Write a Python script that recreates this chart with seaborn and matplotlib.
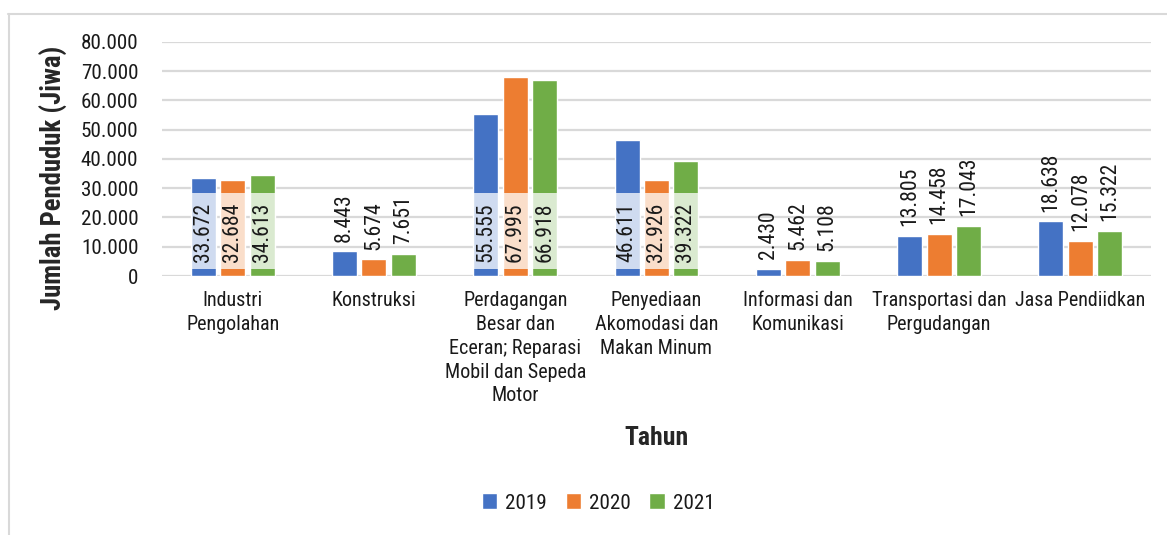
import matplotlib
matplotlib.use("Agg")
import matplotlib.pyplot as plt
from matplotlib import font_manager
from matplotlib.patches import Rectangle
from matplotlib.ticker import FuncFormatter, MultipleLocator
import numpy as np
import pandas as pd
import seaborn as sns

# Sector labels (pre-wrapped) and employment per year
categories = [
    "Industri\nPengolahan",
    "Konstruksi",
    "Perdagangan\nBesar dan\nEceran; Reparasi\nMobil dan Sepeda\nMotor",
    "Penyediaan\nAkomodasi dan\nMakan Minum",
    "Informasi dan\nKomunikasi",
    "Transportasi dan\nPergudangan",
    "Jasa Pendiidkan",
]
years = ["2019", "2020", "2021"]
values_2019 = [33672, 8443, 55555, 46611, 2430, 13805, 18638]
values_2020 = [32684, 5674, 67995, 32926, 5462, 14458, 12078]
values_2021 = [34613, 7651, 66918, 39322, 5108, 17043, 15322]
colors = ["#4472C4", "#ED7D31", "#70AD47"]

series = {"2019": values_2019, "2020": values_2020, "2021": values_2021}
df = pd.DataFrame(
    [(c, y, v) for y in years for c, v in zip(categories, series[y])],
    columns=["Sektor", "Tahun", "Jiwa"],
)

sns.set_theme(style="white")

# Prefer a narrow sans face when one is installed
fonts = font_manager.fontManager.ttflist
narrow_names = [f.name for f in fonts if "Narrow" in f.name or "Condensed" in f.name]
condensed = [f for f in fonts if str(f.stretch) in ("condensed", "semi-condensed")
             and f.name in ("Liberation Sans", "Noto Sans", "Roboto", "Open Sans",
                            "DejaVu Sans", "Lato", "Inter")]
stretch = "normal"
if narrow_names:
    family = sorted(narrow_names, key=lambda n: ("Liberation" not in n, "Roboto" not in n, n))[0]
    scale = 1.0
elif condensed:
    pick = sorted(condensed, key=lambda f: (f.name != "Noto Sans", f.name != "Roboto", f.name))[0]
    family, stretch, scale = pick.name, pick.stretch, 1.0
else:
    family, scale = "Liberation Sans", 0.85
plt.rcParams["font.family"] = [family, "DejaVu Sans"]
plt.rcParams["font.stretch"] = stretch
plt.rcParams["text.color"] = "#1a1a1a"


def dotted(v):
    return f"{int(round(v)):,}".replace(",", ".")


fig = plt.figure(figsize=(11.67, 5.35), dpi=100)
ax = fig.add_axes([162 / 1167, 1 - 276 / 535, (1151 - 162) / 1167, (276 - 42) / 535])

sns.barplot(
    data=df, x="Sektor", y="Jiwa", hue="Tahun", order=categories, hue_order=years,
    palette=colors, width=0.625, gap=0.15, saturation=1, ax=ax, legend=True,
    errorbar=None,
)

ax.set_ylim(0, 80000)
ax.yaxis.set_major_locator(MultipleLocator(10000))
ax.yaxis.set_major_formatter(FuncFormatter(lambda v, p: dotted(v)))
ax.grid(axis="y", color="#D9D9D9", linewidth=1.6)
ax.set_axisbelow(True)
for s in ax.spines.values():
    s.set_visible(False)
ax.tick_params(axis="y", length=0, pad=17, labelsize=15.2 * scale, labelcolor="#1a1a1a")
ax.tick_params(axis="x", length=0, pad=11, labelsize=14.5 * scale, labelcolor="#1a1a1a")
for t in ax.get_xticklabels():
    t.set_linespacing(1.32 if scale == 1.0 else 1.55)

ax.set_xlabel("Tahun", fontsize=18.5 * scale, fontweight="bold", labelpad=0)
ax.xaxis.set_label_coords(0.5, -(426 - 276) / (276 - 42), transform=ax.transAxes)
ax.set_ylabel("Jumlah Penduduk (Jiwa)", fontsize=19.3 * scale, fontweight="bold")
ax.yaxis.set_label_coords((68 - 162) / (1151 - 162), (276 - 178) / (276 - 42))

# Value labels: tall bars get a boxed label at the base, others sit above the bar
label_size = 15.7 * scale
inside = []
for container, year in zip(ax.containers, years):
    for bar, val in zip(container.patches, series[year]):
        cx = bar.get_x() + bar.get_width() / 2
        if val > 30000:
            t = ax.annotate(dotted(val), (cx, 0), xytext=(0, 10), textcoords="offset points",
                            rotation=90, ha="center", va="bottom", fontsize=label_size, zorder=5)
            inside.append((t, bar))
        else:
            ax.annotate(dotted(val), (cx, val), xytext=(0, 7), textcoords="offset points",
                        rotation=90, ha="center", va="bottom", fontsize=label_size, zorder=5)

fig.canvas.draw()
inv = ax.transData.inverted()
for t, bar in inside:
    bb = t.get_window_extent()
    y0 = inv.transform((0, bb.y0 - 7))[1]
    y1 = inv.transform((0, bb.y1 + 10))[1]
    ax.add_patch(Rectangle((bar.get_x(), y0), bar.get_width(), y1 - y0,
                           facecolor="white", alpha=0.75, edgecolor="none", zorder=4))

leg = ax.legend(loc="center", bbox_to_anchor=(598 / 1167, 1 - 503 / 535),
                bbox_transform=fig.transFigure, ncol=3, frameon=False,
                fontsize=15.2 * scale, handlelength=0.75, handleheight=0.75,
                handletextpad=0.35, columnspacing=0.9)

# Chart frame
fig.add_artist(plt.Line2D([8 / 1167, 1], [1 - 13.5 / 535] * 2, color="#D9D9D9", lw=1.5,
                          transform=fig.transFigure))
fig.add_artist(plt.Line2D([8.5 / 1167] * 2, [0, 1 - 13.5 / 535], color="#D9D9D9", lw=1.5,
                          transform=fig.transFigure))

fig.savefig("out.png", dpi=100, facecolor="white")
